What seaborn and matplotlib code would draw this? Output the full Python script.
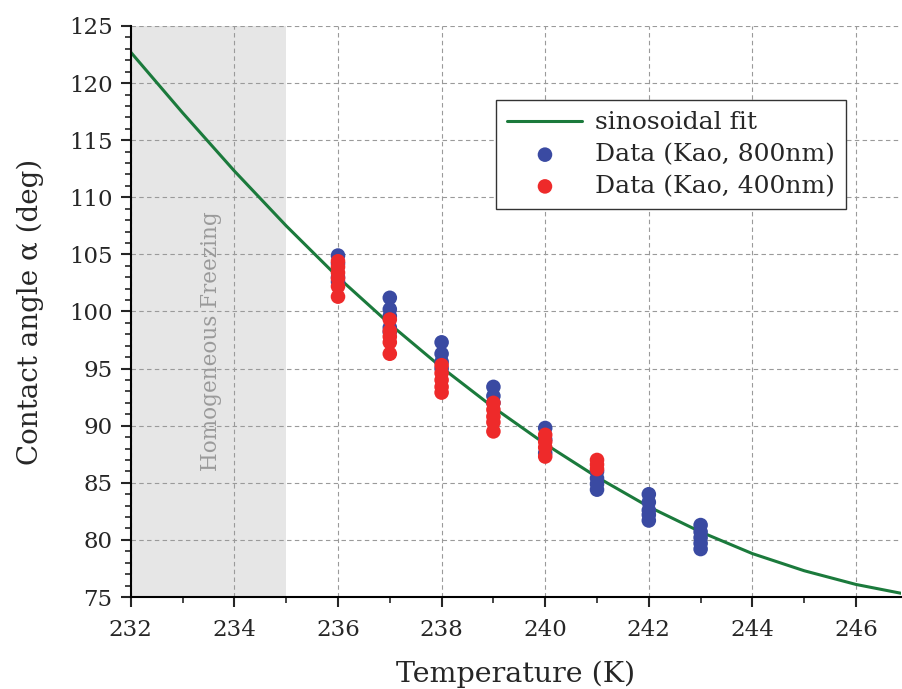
import numpy as np
import pandas as pd
import matplotlib
matplotlib.use("Agg")
import matplotlib.pyplot as plt
import seaborn as sns
from matplotlib.ticker import MultipleLocator

# sinusoidal fit
fit_T = [232, 233, 234, 235, 236, 237, 238, 239, 240, 241, 242, 243, 244, 245, 246, 246.9]
fit_alpha = [122.7, 117.4, 112.3, 107.5, 103.0, 98.9, 95.1, 91.6, 88.4, 85.5, 82.9, 80.7,
             78.8, 77.3, 76.1, 75.3]

# Kao data, 800 nm
T_800 = [236] * 4 + [237] * 5 + [238] * 4 + [239] * 3 + [240] * 3 + [241] * 4 + [242] * 5 + [243] * 5
alpha_800 = [104.9, 104.2, 103.0, 102.6,
             101.2, 100.2, 99.6, 98.6, 98.2,
             97.3, 96.3, 95.6, 95.0,
             93.4, 92.6, 92.0,
             89.8, 88.8, 87.6,
             86.0, 85.4, 84.9, 84.4,
             84.0, 83.3, 82.6, 82.2, 81.7,
             81.3, 80.7, 80.2, 79.7, 79.2]

# Kao data, 400 nm
T_400 = [236] * 6 + [237] * 5 + [238] * 5 + [239] * 5 + [240] * 4 + [241] * 3
alpha_400 = [104.4, 103.9, 103.4, 102.9, 102.2, 101.3,
             99.3, 98.3, 97.8, 97.3, 96.3,
             95.3, 94.6, 94.0, 93.4, 92.9,
             92.0, 91.4, 90.8, 90.3, 89.5,
             89.2, 88.6, 88.1, 87.3,
             87.0, 86.6, 86.2]

sns.set_style("ticks")
plt.rcParams['font.family'] = ['DejaVu Serif']

fig = plt.figure(figsize=(9.02, 6.89), dpi=100)
ax = fig.add_axes([0.145, 0.1335, 0.854, 0.8288])

fit_df = pd.DataFrame({'T': fit_T, 'alpha': fit_alpha})
d800 = pd.DataFrame({'T': T_800, 'alpha': alpha_800})
d400 = pd.DataFrame({'T': T_400, 'alpha': alpha_400})

ax.axvspan(232, 235, color='#e6e6e6', zorder=0, lw=0)
ax.text(233.55, 97.4, 'Homogeneous Freezing', rotation=90, color='#9a9a9a',
        fontsize=15.5, ha='center', va='center')

sns.lineplot(data=fit_df, x='T', y='alpha', ax=ax, color='#1b7a3c', lw=2.2,
             label='sinosoidal fit', zorder=2)
sns.scatterplot(data=d800, x='T', y='alpha', ax=ax, color='#3a4aa2', s=110,
                edgecolor='none', label='Data (Kao, 800nm)', zorder=3)
sns.scatterplot(data=d400, x='T', y='alpha', ax=ax, color='#ee2a2a', s=110,
                edgecolor='none', label='Data (Kao, 400nm)', zorder=4)

ax.set_xlim(232, 246.87)
ax.set_ylim(75, 125)
ax.xaxis.set_major_locator(MultipleLocator(2))
ax.xaxis.set_minor_locator(MultipleLocator(1))
ax.yaxis.set_major_locator(MultipleLocator(5))
ax.yaxis.set_minor_locator(MultipleLocator(1))
ax.tick_params(which='major', direction='out', length=7, width=1.5, labelsize=16.5)
ax.tick_params(which='minor', direction='out', length=4, width=1.2)
ax.tick_params(axis='x', which='major', pad=9)
ax.tick_params(axis='y', which='major', pad=6)
ax.grid(True, which='major', ls=(0, (4, 3)), color='#9a9a9a', lw=0.8)
ax.set_axisbelow(True)
sns.despine(ax=ax)
for s in ['left', 'bottom']:
    ax.spines[s].set_linewidth(1.5)
    ax.spines[s].set_color('black')

ax.set_xlabel('Temperature (K)', fontsize=20.5, labelpad=14)
ax.set_ylabel('Contact angle α (deg)', fontsize=20, labelpad=18)

leg = ax.legend(loc='upper right', bbox_to_anchor=(0.9286, 0.870), borderaxespad=0,
                fontsize=18, frameon=True, fancybox=False, framealpha=1,
                edgecolor='#333333', handlelength=3.0, borderpad=0.45,
                labelspacing=0.35, handletextpad=0.5)
leg.get_frame().set_linewidth(1.0)

fig.savefig('out.png', dpi=100)
